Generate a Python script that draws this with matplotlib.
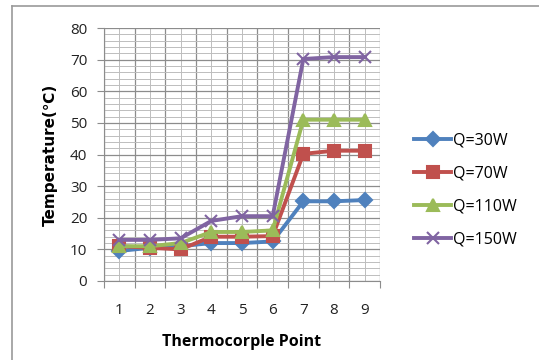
import numpy as np
import matplotlib.pyplot as plt
from matplotlib.lines import Line2D

# -----------------------------
# DATA
# -----------------------------
points = [1, 2, 3, 4, 5, 6, 7, 8, 9]
q30 = [9.5, 10.5, 11, 12, 12, 12.5, 25.2, 25.2, 25.6]
q70 = [11, 10.5, 10, 14, 14, 14.2, 40.2, 41.2, 41.2]
q110 = [11, 11, 12, 15.5, 15.5, 16, 51, 51, 51]
q150 = [13, 13, 13.5, 19, 20.5, 20.5, 70.2, 70.8, 70.8]
labels = ["Q=30W", "Q=70W", "Q=110W", "Q=150W"]

plt.rcParams['font.family'] = ['Open Sans', 'DejaVu Sans']

fig = plt.figure(figsize=(5.39, 3.6), dpi=100)
ax = fig.add_axes([104 / 539, 1 - 281 / 360, 276 / 539, 253 / 360])

styles = [
    ("#4F81BD", "D", 7),
    ("#C0504D", "s", 8),
    ("#9BBB59", "^", 8),
    ("#8064A2", "x", 9),
]
for vals, lab, (c, m, ms) in zip([q30, q70, q110, q150], labels, styles):
    ax.plot(points, vals, color=c, lw=2.8, marker=m, ms=ms, mew=1.5,
            label=lab, zorder=3)

# axes & grid
ax.set_xlim(0.5, 9.5)
ax.set_ylim(0, 80)
ax.set_yticks(np.arange(0, 81, 10))
ax.set_yticks(np.arange(0, 81, 2), minor=True)
ax.set_xticks(np.arange(0.5, 9.6, 1))
ax.set_xticklabels([])
ax.set_xticks(points, minor=True)
ax.set_xticklabels([str(p) for p in points], minor=True)

ax.grid(which='major', color='#8c8c8c', lw=0.9)
ax.grid(which='minor', color='#bdbdbd', lw=0.7)
ax.set_axisbelow(True)

for s in ['top', 'right']:
    ax.spines[s].set_visible(False)
for s in ['left', 'bottom']:
    ax.spines[s].set_color('#8c8c8c')

ax.tick_params(axis='y', which='major', length=5, color='#8c8c8c',
               labelsize=11, pad=7, labelcolor='#222222')
ax.tick_params(axis='y', which='minor', length=0)
ax.tick_params(axis='x', which='major', length=5, color='#8c8c8c')
ax.tick_params(axis='x', which='minor', length=0, labelsize=11, pad=16,
               labelcolor='#222222')

ax.set_xlabel("Thermocorple Point", fontsize=11.5, fontweight='bold', labelpad=11)
ax.set_ylabel("Temperature(℃)", fontsize=11, fontweight='bold', labelpad=9,
              family=['DejaVu Sans'])

fig.legend(loc='center left', bbox_to_anchor=(400 / 539, 1 - 190 / 360),
           frameon=False, fontsize=11.5, handlelength=2.3, labelspacing=1.05,
           handletextpad=0.1)

# outer chart border
fig.add_artist(Line2D([12 / 539, 1], [1 - 6 / 360] * 2, color='#9a9a9a', lw=1.2))
fig.add_artist(Line2D([12 / 539] * 2, [0, 1 - 6 / 360], color='#9a9a9a', lw=1.2))

fig.savefig("out.png", dpi=100)
